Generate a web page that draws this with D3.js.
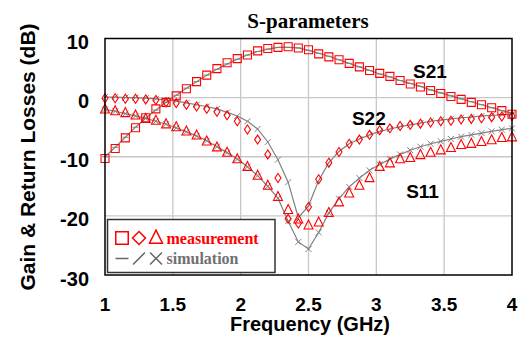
<!DOCTYPE html>
<html>
<head>
<meta charset="utf-8">
<script src="https://cdn.jsdelivr.net/npm/d3@7"></script>
<style>
  body { margin: 0; background: #fff; }
  svg { display: block; }
  .tick-label { font-family: "Liberation Sans", Arial, sans-serif; font-weight: bold; font-size: 20px; fill: #000; }
</style>
</head>
<body>
<svg id="chart" width="527" height="349"></svg>
<script>
// sampled frequencies (GHz)
const freqs = [1.000,1.075,1.150,1.225,1.300,1.375,1.450,1.525,1.600,1.675,
  1.750,1.825,1.900,1.975,2.050,2.125,2.200,2.275,2.350,2.425,
  2.500,2.575,2.650,2.725,2.800,2.875,2.950,3.025,3.100,3.175,
  3.250,3.325,3.400,3.475,3.550,3.625,3.700,3.775,3.850,3.925,4.000];

// measured (dB)
const s21Meas = [-10.3,-8.6,-6.8,-5.1,-3.4,-1.9,-0.8,0.3,1.5,2.7,
  3.8,4.9,5.9,6.6,7.2,7.9,8.3,8.5,8.6,8.4,
  8.1,7.4,6.9,6.4,5.8,5.2,4.6,4.1,3.6,2.9,
  2.3,1.8,1.2,0.7,0.2,-0.3,-0.8,-1.2,-1.7,-2.2,-2.8];
const s22Meas = [-0.1,-0.1,-0.2,-0.2,-0.3,-0.4,-0.8,-0.9,-1.2,-1.5,
  -1.9,-2.4,-3.0,-4.0,-5.4,-7.1,-9.6,-13.6,-20.5,-21.3,
  -18.5,-13.8,-11.0,-9.2,-7.8,-7.1,-6.3,-5.5,-5.2,-4.8,
  -4.6,-4.4,-4.2,-4.0,-3.9,-3.7,-3.6,-3.5,-3.3,-3.2,-3.1];
const s11Meas = [-2.0,-2.3,-2.6,-3.0,-3.6,-3.9,-4.5,-5.0,-5.7,-6.4,
  -7.4,-8.4,-9.3,-10.4,-11.7,-13.2,-14.9,-16.8,-19.0,-20.6,
  -21.6,-21.1,-19.5,-17.7,-16.2,-14.9,-13.6,-11.7,-11.1,-10.4,
  -10.2,-9.7,-9.3,-8.9,-8.5,-8.0,-7.8,-7.5,-7.2,-6.8,-6.7];

// simulated (dB)
const s21Sim = [-10.0,-8.4,-6.7,-5.0,-3.5,-2.1,-0.8,0.4,1.6,2.7,
  3.8,4.8,5.7,6.5,7.2,7.8,8.2,8.5,8.5,8.4,
  8.0,7.5,7.0,6.4,5.8,5.2,4.6,4.0,3.5,2.9,
  2.4,1.9,1.3,0.8,0.3,-0.2,-0.7,-1.2,-1.7,-2.2,-2.6];
const s22Sim = [0.1,0.1,0.0,0.0,-0.1,-0.2,-0.4,-0.6,-0.9,-1.2,
  -1.5,-1.9,-2.5,-3.1,-4.0,-5.3,-7.5,-10.5,-14.3,-20.3,
  -18.3,-14.0,-11.0,-9.1,-7.8,-7.0,-6.3,-5.7,-5.3,-4.9,
  -4.6,-4.3,-4.0,-3.8,-3.6,-3.4,-3.3,-3.1,-3.0,-2.9,-2.8];
const s11Sim = [-2.0,-2.3,-2.7,-3.1,-3.5,-4.0,-4.5,-5.1,-5.8,-6.5,
  -7.3,-8.3,-9.3,-10.4,-11.7,-13.2,-15.0,-17.0,-20.9,-24.4,
  -25.6,-22.8,-19.5,-17.1,-15.1,-13.6,-12.3,-11.3,-10.4,-9.6,
  -8.9,-8.3,-7.8,-7.4,-7.0,-6.6,-6.3,-6.0,-5.7,-5.4,-5.2];

const xTicks = [1, 1.5, 2, 2.5, 3, 3.5, 4];
const yTicks = [10, 0, -10, -20, -30];

const RED = "#ff0000", GRAY = "#808080";

const svg = d3.select("#chart");
const plot = { left: 105, right: 512, top: 38.5, bottom: 275 };

const x = d3.scaleLinear().domain([1, 4]).range([plot.left, plot.right]);
const y = d3.scaleLinear().domain([-30, 10]).range([plot.bottom, plot.top]);

// grid
svg.append("g").selectAll("line").data(xTicks.slice(1, -1)).join("line")
  .attr("x1", d => x(d)).attr("x2", d => x(d))
  .attr("y1", plot.top).attr("y2", plot.bottom)
  .attr("stroke", "#c8c8c8").attr("stroke-width", 1.3);
svg.append("g").selectAll("line").data(yTicks.slice(1, -1)).join("line")
  .attr("x1", plot.left).attr("x2", plot.right)
  .attr("y1", d => y(d)).attr("y2", d => y(d))
  .attr("stroke", "#c8c8c8").attr("stroke-width", 1.3);

// tick labels
svg.append("g").selectAll("text").data(yTicks).join("text")
  .attr("class", "tick-label")
  .attr("x", 89).attr("y", d => y(d) + 10.5)
  .attr("text-anchor", "end")
  .text(d => d);
svg.append("g").selectAll("text").data(xTicks).join("text")
  .attr("class", "tick-label")
  .style("font-size", "19px")
  .attr("x", d => x(d)).attr("y", 310.5)
  .attr("text-anchor", "middle")
  .text(d => d);

// axis titles
svg.append("text")
  .attr("x", 310).attr("y", 331)
  .attr("text-anchor", "middle")
  .style("font-family", "'Liberation Sans', Arial, sans-serif")
  .style("font-weight", "bold").style("font-size", "20px")
  .text("Frequency (GHz)");
svg.append("text")
  .attr("transform", "translate(35,157) rotate(-90)")
  .attr("text-anchor", "middle")
  .style("font-family", "'Liberation Sans', Arial, sans-serif")
  .style("font-weight", "bold").style("font-size", "21px")
  .text("Gain & Return Losses (dB)");
svg.append("text")
  .attr("x", 308).attr("y", 28)
  .attr("text-anchor", "middle")
  .style("font-family", "'Liberation Serif', 'Times New Roman', serif")
  .style("font-weight", "bold").style("font-size", "21px")
  .text("S-parameters");

// marker paths
function squarePath(s) { return `M${-s/2},${-s/2}h${s}v${s}h${-s}Z`; }
function diamondPath(w, h) { return `M0,${-h/2}L${w/2},0L0,${h/2}L${-w/2},0Z`; }
function trianglePath(w, h) { return `M0,${-h*0.6}L${w/2},${h*0.4}L${-w/2},${h*0.4}Z`; }
function dashPath(s) { return `M${-s/2},0h${s}`; }
function slashPath(s) { return `M${-s/2},${s/2}L${s/2},${-s/2}`; }
function crossPath(s) { return `M${-s/2},${-s/2}L${s/2},${s/2}M${-s/2},${s/2}L${s/2},${-s/2}`; }

const line = d3.line().x(d => x(d[0])).y(d => y(d[1]));

const simSeries = [
  { values: s21Sim, marker: dashPath(6) },
  { values: s22Sim, marker: slashPath(6) },
  { values: s11Sim, marker: crossPath(6) },
];
const measSeries = [
  { values: s21Meas, marker: squarePath(8) },
  { values: s22Meas, marker: diamondPath(6, 9) },
  { values: s11Meas, marker: trianglePath(9, 9) },
];

const plotArea = svg.append("g");

simSeries.forEach(s => {
  const pts = freqs.map((f, i) => [f, s.values[i]]);
  plotArea.append("path").attr("d", line(pts))
    .attr("fill", "none").attr("stroke", GRAY).attr("stroke-width", 1.2);
  plotArea.append("g").selectAll("path").data(pts).join("path")
    .attr("transform", d => `translate(${x(d[0])},${y(d[1])})`)
    .attr("d", s.marker)
    .attr("fill", "none").attr("stroke", GRAY).attr("stroke-width", 1);
});

measSeries.forEach(s => {
  const pts = freqs.map((f, i) => [f, s.values[i]]);
  plotArea.append("g").selectAll("path").data(pts).join("path")
    .attr("transform", d => `translate(${x(d[0])},${y(d[1])})`)
    .attr("d", s.marker)
    .attr("fill", "none").attr("stroke", RED).attr("stroke-width", 1.1);
});

// curve labels
const curveLabels = [
  { name: "S21", x: 3.27, y: 3.3 },
  { name: "S22", x: 2.82, y: -4.6 },
  { name: "S11", x: 3.22, y: -16.9 },
];
svg.append("g").selectAll("text").data(curveLabels).join("text")
  .attr("x", d => x(d.x)).attr("y", d => y(d.y))
  .style("font-family", "'Liberation Sans', Arial, sans-serif")
  .style("font-weight", "bold").style("font-size", "19px")
  .text(d => d.name);

// frame
svg.append("rect")
  .attr("x", plot.left).attr("y", plot.top)
  .attr("width", plot.right - plot.left).attr("height", plot.bottom - plot.top)
  .attr("fill", "none").attr("stroke", "#000").attr("stroke-width", 1.5);

// legend
const legend = svg.append("g").attr("transform", "translate(107.5,219.5)");
legend.append("rect").attr("width", 167.5).attr("height", 53)
  .attr("fill", "#fff").attr("stroke", "#333").attr("stroke-width", 1.5);
const legMeas = [squarePath(12.5), diamondPath(13, 13), trianglePath(13, 13)];
const legSim = [dashPath(13), slashPath(12), crossPath(12)];
legend.selectAll(".lm").data(legMeas).join("path")
  .attr("transform", (d, i) => `translate(${14.5 + i * 17},${18.5})`)
  .attr("d", d => d).attr("fill", "none").attr("stroke", RED).attr("stroke-width", 1.5);
legend.selectAll(".ls").data(legSim).join("path")
  .attr("transform", (d, i) => `translate(${14.5 + i * 17},${39})`)
  .attr("d", d => d).attr("fill", "none").attr("stroke", "#666").attr("stroke-width", 1.5);
legend.append("text").attr("x", 59).attr("y", 24)
  .style("font-family", "'Liberation Serif', 'Times New Roman', serif")
  .style("font-weight", "bold").style("font-size", "16px").attr("fill", RED)
  .text("measurement");
legend.append("text").attr("x", 59).attr("y", 44.5)
  .style("font-family", "'Liberation Serif', 'Times New Roman', serif")
  .style("font-weight", "bold").style("font-size", "16px").attr("fill", "#707070")
  .text("simulation");
</script>
</body>
</html>
